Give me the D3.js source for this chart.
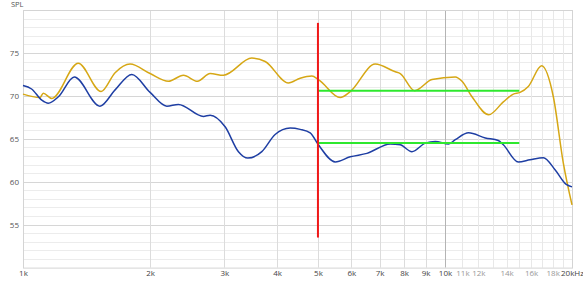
<!DOCTYPE html>
<html>
<head>
<meta charset="utf-8">
<script src="https://cdn.jsdelivr.net/npm/d3@7/dist/d3.min.js"></script>
<style>
  body { margin: 0; background: #fff; }
  text { font-family: "Open Sans", "DejaVu Sans", sans-serif; }
</style>
</head>
<body>
<div id="graph"></div>
<script>
// measured responses, [Hz, dB]
var goldCurve = [
  [1000, 70.2], [1097, 69.8], [1117, 70.3], [1170, 69.7], [1352, 73.8], [1531, 70.5],
  [1653, 72.7], [1794, 73.7], [2001, 72.6], [2211, 71.7], [2400, 72.4], [2591, 71.7],
  [2776, 72.6], [2985, 72.4], [3485, 74.4], [3749, 74.0], [4257, 71.5], [4538, 72.05],
  [4838, 72.3], [5014, 71.9], [5646, 69.8], [5964, 70.5], [6833, 73.7], [7625, 72.8],
  [7834, 72.6], [8472, 70.6], [9316, 71.9], [10578, 72.2], [10973, 71.7], [11588, 69.9],
  [12700, 67.8], [13750, 69.3], [14521, 70.2], [15061, 70.4], [15758, 71.1], [16948, 73.5],
  [18063, 69.9], [19071, 62.2], [20000, 57.3]
];
var blueCurve = [
  [1000, 71.2], [1048, 70.8], [1108, 69.5], [1148, 69.15], [1213, 69.9], [1323, 72.2],
  [1522, 68.8], [1653, 70.7], [1811, 72.5], [2001, 70.4], [2192, 68.8], [2335, 69.0],
  [2677, 67.6], [2776, 67.75], [3013, 66.4], [3240, 63.5], [3410, 62.75], [3681, 63.5],
  [3958, 65.5], [4297, 66.25], [4538, 66.1], [4793, 65.7], [5014, 64.3], [5494, 62.3],
  [5964, 62.9], [6531, 63.3], [7419, 64.4], [7834, 64.3], [8350, 63.5], [8980, 64.5],
  [9485, 64.7], [10198, 64.4], [10578, 64.9], [11376, 65.7], [12463, 65.1], [13377, 64.8],
  [13750, 64.3], [14922, 62.3], [15904, 62.55], [17105, 62.8], [18231, 61.4], [19417, 59.65],
  [20000, 59.4]
];
// marker at 5k and the two level lines 5k..15k
var markerFreq = 5000;
var markerRange = [53.5, 78.5];
var levelLines = [70.6, 64.5];
var levelRange = [5000, 15000];

var xTickLabels = [
  [1000, "1k"], [2000, "2k"], [3000, "3k"], [4000, "4k"], [5000, "5k"], [6000, "6k"],
  [7000, "7k"], [8000, "8k"], [9000, "9k"], [10000, "10k"], [11000, "11k"], [12000, "12k"],
  [14000, "14k"], [16000, "16k"], [18000, "18k"], [20000, "20kHz"]
];
var lightLabels = [11000, 12000, 14000, 16000, 18000];
var yTicks = [55, 60, 65, 70, 75];

var width = 583, height = 281;
var margin = {top: 10, right: 11, bottom: 13, left: 23};

var svg = d3.select('#graph').append('svg')
  .attr('width', width)
  .attr('height', height);

var x = d3.scaleLog()
  .domain([1000, 20000])
  .range([margin.left, width - margin.right]);
var y = d3.scaleLinear()
  .domain([50, 80])
  .range([height - margin.bottom - 0.4, margin.top]);

// grid
var grid = svg.append('g');
var hLines = d3.range(51, 80);
grid.selectAll('.h').data(hLines).enter().append('line')
  .attr('x1', x(1000)).attr('x2', x(20000))
  .attr('y1', function(d) { return Math.round(y(d)) + 0.5; })
  .attr('y2', function(d) { return Math.round(y(d)) + 0.5; })
  .attr('stroke', function(d) { return d % 5 == 0 ? '#d6d6d6' : '#ececec'; })
  .attr('stroke-width', 1);

var vFreqs = d3.range(2000, 10000, 1000).concat(d3.range(11000, 20000, 1000));
grid.selectAll('.v').data(vFreqs).enter().append('line')
  .attr('x1', function(d) { return Math.round(x(d)) + 0.5; })
  .attr('x2', function(d) { return Math.round(x(d)) + 0.5; })
  .attr('y1', y(80)).attr('y2', y(50))
  .attr('stroke', function(d) { return d < 10000 ? '#dcdcdc' : '#e8e8e8'; });

grid.append('line')
  .attr('x1', Math.round(x(10000)) + 0.5).attr('x2', Math.round(x(10000)) + 0.5)
  .attr('y1', y(80)).attr('y2', y(50))
  .attr('stroke', '#b4b4b4');

// frame
svg.append('rect')
  .attr('x', x(1000) + 0.5).attr('y', y(80) + 0.5)
  .attr('width', x(20000) - x(1000)).attr('height', y(50) - y(80))
  .attr('fill', 'none').attr('stroke', '#d4d4d4');

// axes (domain removed, custom look)
var yAxis = d3.axisLeft(y).tickValues(yTicks).tickSize(0).tickPadding(4);
svg.append('g').attr('transform', 'translate(' + x(1000) + ',0)')
  .call(customYAxis);

function customYAxis(g) {
  g.call(yAxis);
  g.select('.domain').remove();
  g.selectAll('.tick text').attr('fill', '#555').attr('font-size', 8);
}

var xAxis = d3.axisBottom(x)
  .tickValues(xTickLabels.map(function(d) { return d[0]; }))
  .tickFormat(function(d) { return xTickLabels.find(function(t) { return t[0] == d; })[1]; })
  .tickSize(0).tickPadding(3);
svg.append('g').attr('transform', 'translate(0,' + y(50) + ')')
  .call(customXAxis);

function customXAxis(g) {
  g.call(xAxis);
  g.select('.domain').remove();
  g.selectAll('.tick text')
    .attr('font-size', 8)
    .attr('fill', function(d) { return lightLabels.indexOf(d) >= 0 ? '#999' : '#444'; });
}

svg.append('text')
  .attr('x', 11).attr('y', 7)
  .attr('font-size', 7.5).attr('fill', '#555')
  .text('SPL');

// curves
var line = d3.line()
  .x(function(d) { return x(d[0]); })
  .y(function(d) { return y(d[1]); })
  .curve(d3.curveMonotoneX);

svg.append('path').datum(goldCurve)
  .attr('d', line).attr('fill', 'none')
  .attr('stroke', '#d6a715').attr('stroke-width', 1.5);

svg.append('path').datum(blueCurve)
  .attr('d', line).attr('fill', 'none')
  .attr('stroke', '#1e3ea3').attr('stroke-width', 1.5);

// level lines
svg.selectAll('.lvl').data(levelLines).enter().append('line')
  .attr('x1', x(levelRange[0])).attr('x2', x(levelRange[1]))
  .attr('y1', function(d) { return y(d); })
  .attr('y2', function(d) { return y(d); })
  .attr('stroke', '#2ee82e').attr('stroke-width', 2);

// marker
svg.append('line')
  .attr('x1', x(markerFreq)).attr('x2', x(markerFreq))
  .attr('y1', y(markerRange[1])).attr('y2', y(markerRange[0]))
  .attr('stroke', '#f01818').attr('stroke-width', 2);
</script>
</body>
</html>
